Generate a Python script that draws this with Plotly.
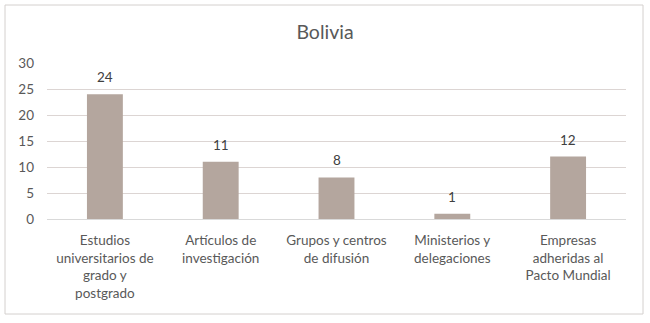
import plotly.graph_objects as go

categories = ["Estudios<br>universitarios de<br>grado y<br>postgrado",
              "Artículos de<br>investigación",
              "Grupos y centros<br>de difusión",
              "Ministerios y<br>delegaciones",
              "Empresas<br>adheridas al<br>Pacto Mundial"]
values = [24, 11, 8, 1, 12]
y_ticks = [0, 5, 10, 15, 20, 25, 30]

W, H = 650, 323
L, R, T, B = 47, 626, 63, 219
pw, ph = R - L, B - T

FONT = "Lato, 'Open Sans', sans-serif"
TXT = "#595959"

fig = go.Figure(go.Bar(
    x=categories, y=values,
    marker=dict(color="#b4a69e", line=dict(width=0)),
    width=0.31, hoverinfo="skip",
))

annotations = [dict(x=c, y=v, text=str(v), xref="x", yref="y", showarrow=False,
                    yanchor="bottom", yshift=7,
                    font=dict(family=FONT, size=13.5, color="#404040"))
               for c, v in zip(categories, values)]

fig.update_layout(
    width=W, height=H,
    margin=dict(l=L, r=W - R, t=T, b=H - B, pad=0),
    paper_bgcolor="white", plot_bgcolor="white",
    showlegend=False,
    title=dict(text="Bolivia", x=0.5, xanchor="center", y=1 - 32 / H, yanchor="middle",
               font=dict(family=FONT, size=19.5, color=TXT)),
    font=dict(family=FONT, size=13.5, color=TXT),
    xaxis=dict(showgrid=False, showline=True, linecolor="#d9d9d9", linewidth=1,
               ticks="", tickfont=dict(family=FONT, size=13.5, color=TXT),
               ticklabelstandoff=9, fixedrange=True),
    yaxis=dict(range=[0, 30], tickvals=y_ticks, showgrid=True, gridcolor="#dcd5d3",
               gridwidth=1, zeroline=False, showline=False, ticks="",
               tickfont=dict(family=FONT, size=13.5, color=TXT),
               ticklabelstandoff=12, fixedrange=True),
    annotations=annotations,
    shapes=[dict(type="rect", xref="paper", yref="paper",
                 x0=(5 - L) / pw, x1=(643 - L) / pw,
                 y0=(B - 314) / ph, y1=(B - 5) / ph,
                 line=dict(color="#d4d0ce", width=1), fillcolor="rgba(0,0,0,0)",
                 layer="below")],
)

fig.write_html("out.html", config={"displayModeBar": False},
               post_script="document.body.style.margin='0';document.body.style.padding='0';")
